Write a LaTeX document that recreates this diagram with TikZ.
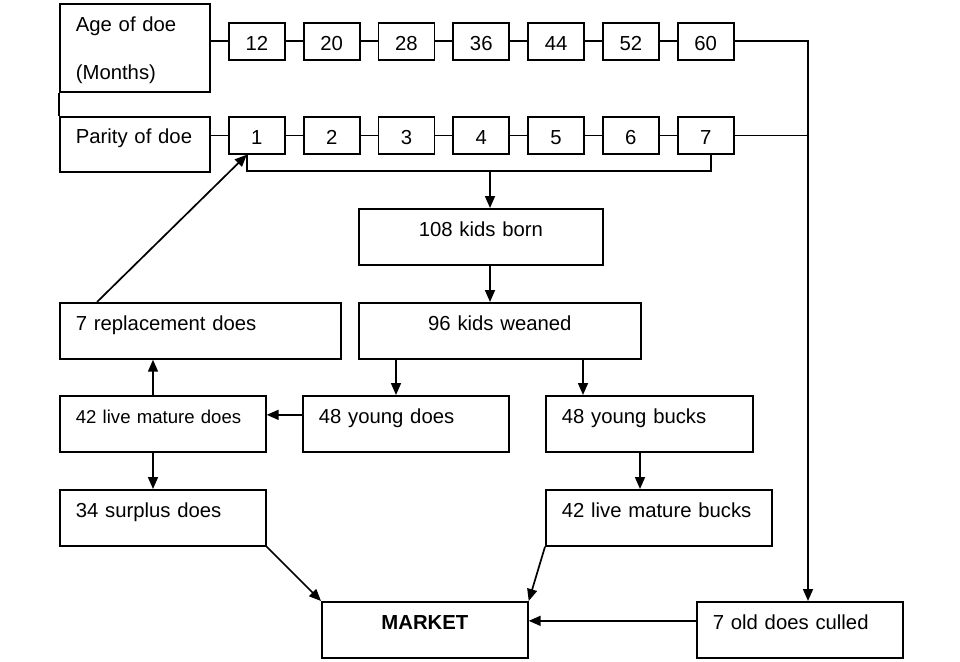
\documentclass[tikz,border=0pt]{standalone}
\usepackage{fontspec}
\setmainfont{Liberation Sans}
\usetikzlibrary{arrows.meta}

\begin{document}
\begin{tikzpicture}[x=1pt, y=-1pt, line width=1.7pt,
  stock/.style={draw, anchor=north west, inner xsep=16pt, inner ysep=0pt,
    align=left, text height=28pt, text depth=28pt,
    font=\fontsize{20.3}{24.4}\selectfont},
  mid/.style={stock, align=center},
  cell/.style={draw, anchor=north west, minimum width=56pt, minimum height=37pt,
    inner sep=0pt, text height=19pt, font=\fontsize{20.3}{24.4}\selectfont},
  flow/.style={-{Triangle[length=12pt,width=10pt]}}]
\useasboundingbox (0,0) rectangle (960,661);

% Row heads
\node[stock, text width=118pt, text depth=60pt, font=\fontsize{20.3}{48}\selectfont]
  (age) at (59,3) {Age of doe\\(Months)};
\node[stock, text width=118pt, text height=27pt] (parity) at (59,116) {Parity of doe};
\draw (age.south west) -- (parity.north west);

% Age and parity cells
\foreach \lab [count=\i] in {12,20,28,36,44,52,60}
  \node[cell] (a\i) at ({228+74.8*(\i-1)},22) {\lab};
\foreach \lab [count=\i] in {1,...,7}
  \node[cell] (p\i) at ({228+74.8*(\i-1)},116) {\lab};
\draw (age.east |- a1) -- (a1);
\draw (parity.east |- p1) -- (p1);
\foreach \i [count=\j from 2] in {1,...,6} {
  \draw (a\i) -- (a\j);
  \draw (p\i) -- (p\j);
}

% Flock boxes
\node[mid, text width=212pt] (born) at (358,208) {108 kids born};
\node[mid, text width=250pt] (weaned) at (358,302) {96 kids weaned};
\node[stock, text width=249pt] (repl) at (59,302) {7 replacement does};
\node[stock, text width=174pt, font=\fontsize{18.6}{22}\selectfont] (matdoes) at (59,395) {42 live mature does};
\node[stock, text width=174pt] (ydoes) at (302,395) {48 young does};
\node[stock, text width=175pt] (ybucks) at (545,395) {48 young bucks};
\node[stock, text width=174pt] (surplus) at (59,489) {34 surplus does};
\node[stock, text width=194pt] (matbucks) at (545,489) {42 live mature bucks};
\node[mid, text width=174pt, font=\fontsize{20.3}{24.4}\selectfont\bfseries] (market) at (321,601) {MARKET};
\node[stock, text width=174pt] (culled) at (696,601) {7 old does culled};

% Kidding
\coordinate (split) at (490,171);
\draw ([xshift=-10pt]p1.south) -- ([xshift=-10pt]p1.south |- split)
  -- ([xshift=5pt]p7.south |- split) -- ([xshift=5pt]p7.south);
\draw[flow] (split) -- (split |- born.north);
\draw[flow] (split |- born.south) -- (split |- weaned.north);
\draw[flow] ([xshift=94pt]ydoes.north west |- weaned.south) -- ([xshift=94pt]ydoes.north west);
\draw[flow] ([xshift=38pt]ybucks.north west |- weaned.south) -- ([xshift=38pt]ybucks.north west);

% Does
\draw[flow] ([yshift=9pt]ydoes.west) -- ([yshift=9pt]matdoes.east);
\draw[flow] ([xshift=94pt]matdoes.north west) -- ([xshift=94pt]matdoes.north west |- repl.south);
\draw[flow] ([xshift=94pt]matdoes.south west) -- ([xshift=94pt]surplus.north west);
\draw[flow] ([xshift=38pt]repl.north west) -- ([xshift=-10pt]p1.south);

% Bucks
\draw[flow] ([xshift=95pt]ybucks.south west) -- ([xshift=95pt]matbucks.north west);

% Culling of old does
\coordinate (drop) at (808,601);
\draw[flow] (a7.east) -| (drop);
\draw (p7.east) -- (p7.east -| drop);

% Sales
\draw[flow] (surplus.south east) -- (market.north west);
\draw[flow] (matbucks.south west) -- (market.north east);
\draw[flow] ([yshift=9pt]culled.west) -- ([yshift=9pt]market.east);
\end{tikzpicture}
\end{document}
